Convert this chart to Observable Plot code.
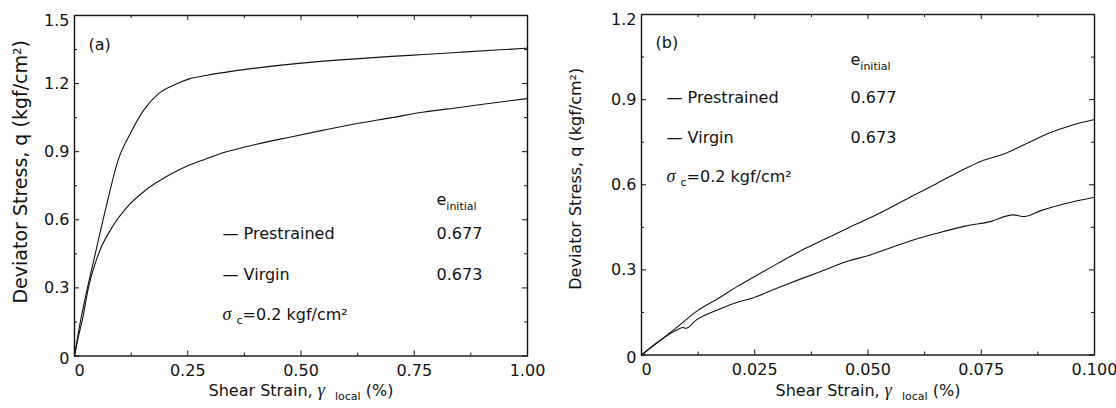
<!DOCTYPE html>
<html><head><meta charset="utf-8">
<script src="https://cdn.jsdelivr.net/npm/d3@7"></script>
<script src="https://cdn.jsdelivr.net/npm/@observablehq/plot@0.6"></script>
<style>
body{margin:0;background:#fff;}
#wrap{display:flex;width:1116px;height:408px;overflow:hidden;}
svg{display:block;}
</style></head><body><div id="wrap"></div>
<script>
// ---------- Data ----------
const seriesNames = ["Prestrained", "Virgin"];
const eInitial = ["0.677", "0.673"];

// Panel (a)
const aPreStrain = [0, 0.012, 0.0257, 0.0425, 0.068, 0.096, 0.123, 0.152, 0.185, 0.222, 0.255, 0.29, 0.35, 0.40, 0.5, 0.62, 0.70, 0.77, 0.85, 0.94, 1.0];
const aPreStress = [0, 0.14, 0.274, 0.421, 0.641, 0.861, 0.979, 1.081, 1.155, 1.196, 1.222, 1.236, 1.255, 1.268, 1.29, 1.309, 1.32, 1.328, 1.338, 1.349, 1.356];
const aVirStrain = [0, 0.008, 0.017, 0.031, 0.053, 0.083, 0.116, 0.156, 0.207, 0.255, 0.29, 0.328, 0.4, 0.475, 0.55, 0.621, 0.7, 0.768, 0.85, 0.936, 1.0];
const aVirStress = [0, 0.08, 0.156, 0.303, 0.45, 0.567, 0.656, 0.729, 0.795, 0.842, 0.868, 0.895, 0.932, 0.964, 0.995, 1.023, 1.05, 1.074, 1.095, 1.118, 1.134];
const aXTicks = [0, 0.25, 0.5, 0.75, 1.0];
const aXTickLabels = ["0", "0.25", "0.50", "0.75", "1.00"];
const aXMinor = [0.125, 0.375, 0.625, 0.875];
const aYTicks = [0, 0.3, 0.6, 0.9, 1.2, 1.5];
const aYTickLabels = ["0", "0.3", "0.6", "0.9", "1.2", "1.5"];
const aYMinor = [0.15, 0.45, 0.75, 1.05, 1.35];

// Panel (b)
const bPreStrain = [0, 0.004, 0.008, 0.012, 0.017, 0.021, 0.025, 0.03, 0.0355, 0.04, 0.0455, 0.05, 0.055, 0.06, 0.065, 0.07, 0.075, 0.08, 0.085, 0.09, 0.095, 0.1];
const bPreStress = [0, 0.05, 0.10, 0.152, 0.2, 0.24, 0.277, 0.322, 0.37, 0.405, 0.447, 0.48, 0.52, 0.562, 0.603, 0.645, 0.683, 0.708, 0.745, 0.782, 0.81, 0.83];
const bVirStrain = [0, 0.004, 0.008, 0.0092, 0.0098, 0.012, 0.017, 0.021, 0.024, 0.03, 0.0355, 0.04, 0.0458, 0.05, 0.055, 0.06, 0.065, 0.0717, 0.077, 0.082, 0.0845, 0.088, 0.0934, 0.1];
const bVirStress = [0, 0.05, 0.09, 0.097, 0.094, 0.122, 0.16, 0.185, 0.198, 0.236, 0.27, 0.297, 0.332, 0.35, 0.378, 0.405, 0.428, 0.455, 0.47, 0.494, 0.488, 0.508, 0.533, 0.556];
const bXTicks = [0, 0.025, 0.05, 0.075, 0.1];
const bXTickLabels = ["0", "0.025", "0.050", "0.075", "0.100"];
const bXMinor = [0.0125, 0.0375, 0.0625, 0.0875];
const bYTicks = [0, 0.3, 0.6, 0.9, 1.2];
const bYTickLabels = ["0", "0.3", "0.6", "0.9", "1.2"];
const bYMinor = [0.15, 0.45, 0.75, 1.05];

const yTitle = "Deviator Stress, q (kgf/cm²)";
const xTitle = "Shear Strain, γ local (%)";
const sigmaText = "σ c=0.2 kgf/cm²";
const eText = "e initial";

// ---------- Drawing ----------
const W = 558, H = 408, INK = "#111";

function makePanel(p) {
  const ih = H - p.mt - p.mb, iw = W - p.ml - p.mr;
  const pre = p.preX.map((x, i) => ({x, y: p.preY[i]}));
  const vir = p.virX.map((x, i) => ({x, y: p.virY[i]}));
  const fmt = (ticks, labels) => d => labels[ticks.indexOf(d)];
  const xf = fmt(p.xTicks, p.xLabels), yf = fmt(p.yTicks, p.yLabels);
  const n = p.yTicks.length;
  const txt = (s, o) => Plot.text([s], {text: d => d, frameAnchor: "top-left", textAnchor: "start", fontSize: 16, fill: INK, ...o});
  const marks = [
    Plot.line(pre, {x: "x", y: "y", stroke: INK, strokeWidth: 1.1, curve: "monotone-x"}),
    Plot.line(vir, {x: "x", y: "y", stroke: INK, strokeWidth: 1.1, curve: "monotone-x"}),
    Plot.frame({stroke: INK, strokeWidth: 1.4}),
    Plot.tickX(p.xTicks, {x: d => d, insetTop: ih - 5, stroke: INK}),
    Plot.tickX(p.xTicks, {x: d => d, insetBottom: ih - 5, stroke: INK}),
    Plot.tickX(p.xMinor, {x: d => d, insetTop: ih - 3, stroke: INK}),
    Plot.tickX(p.xMinor, {x: d => d, insetBottom: ih - 3, stroke: INK}),
    Plot.tickY(p.yTicks, {y: d => d, insetRight: iw - 5, stroke: INK}),
    Plot.tickY(p.yTicks, {y: d => d, insetLeft: iw - 5, stroke: INK}),
    Plot.tickY(p.yMinor, {y: d => d, insetRight: iw - 3, stroke: INK}),
    Plot.tickY(p.yMinor, {y: d => d, insetLeft: iw - 3, stroke: INK}),
    Plot.axisX(p.xTicks.slice(1), {tickSize: 0, tickPadding: 9, tickFormat: xf, label: null, fontSize: 16, fill: INK}),
    Plot.axisX(p.xTicks.slice(0, 1), {tickSize: 0, tickPadding: 9, dx: 5, tickFormat: xf, label: null, fontSize: 16, fill: INK}),
    Plot.axisY(p.yTicks.slice(1, n - 1), {tickSize: 0, tickPadding: 5, tickFormat: yf, label: null, fontSize: 16, fill: INK}),
    Plot.axisY(p.yTicks.slice(0, 1), {tickSize: 0, tickPadding: 5, dy: 3, tickFormat: yf, label: null, fontSize: 16, fill: INK}),
    Plot.axisY(p.yTicks.slice(n - 1), {tickSize: 0, tickPadding: 5, dy: 5, tickFormat: yf, label: null, fontSize: 16, fill: INK}),
    Plot.text([yTitle], {text: d => d, frameAnchor: "left", textAnchor: "middle", dx: p.yTitleDx, dy: p.yTitleDy, rotate: -90, fontSize: p.yTitleSize, fill: INK}),
    Plot.text([xTitle], {text: d => d, frameAnchor: "bottom", textAnchor: "middle", dy: p.xTitleDy, fontSize: 16, fill: INK}),
    txt(p.tag, {dx: p.tagDx, dy: p.tagDy}),
    txt(eText, {dx: p.valDx, dy: p.eDy}),
    txt(sigmaText, {dx: p.legDx, dy: p.sigDy})
  ];
  seriesNames.forEach((s, i) => {
    marks.push(txt("— " + s, {dx: p.legDx, dy: p.rowDy[i]}));
    marks.push(txt(eInitial[i], {dx: p.valDx, dy: p.rowDy[i]}));
  });
  const svg = Plot.plot({
    width: W, height: H,
    marginLeft: p.ml, marginRight: p.mr, marginTop: p.mt, marginBottom: p.mb,
    x: {domain: p.xDomain}, y: {domain: p.yDomain},
    style: {fontFamily: "'DejaVu Sans', sans-serif", fontSize: "16px", color: INK, background: "#fff"},
    marks
  });
  rich(svg, xTitle, [
    {t: "Shear Strain,\u00a0"}, {t: "γ", italic: true, size: 18}, {t: "\u00a0\u00a0"},
    {t: "local", size: 11, dy: 4}, {t: "\u00a0(%)", dy: -4}
  ]);
  rich(svg, eText, [{t: "e"}, {t: "initial", size: 11, dy: 5}]);
  rich(svg, sigmaText, [
    {t: "σ", italic: true, size: 18}, {t: "\u00a0"}, {t: "c", size: 11, dy: 4},
    {t: "=0.2 kgf/cm²", dy: -4}
  ]);
  return svg;
}

// Replace a plain text (found by its content) with styled tspans
function rich(svg, content, parts) {
  d3.select(svg).selectAll("text").filter(function () {
    return this.textContent === content && this.childElementCount === 0;
  }).each(function () {
    const t = d3.select(this);
    t.text(null);
    for (const q of parts) {
      const s = t.append("tspan").text(q.t);
      if (q.dy) s.attr("dy", q.dy);
      if (q.size) s.attr("font-size", q.size);
      if (q.italic) s.attr("font-style", "italic").attr("font-family", "'Liberation Serif', serif");
    }
  });
}

const wrap = document.getElementById("wrap");
wrap.append(makePanel({
  ml: 74, mr: 31, mt: 15, mb: 52.5,
  xDomain: [0, 1], yDomain: [0, 1.5],
  preX: aPreStrain, preY: aPreStress, virX: aVirStrain, virY: aVirStress,
  xTicks: aXTicks, xLabels: aXTickLabels, xMinor: aXMinor,
  yTicks: aYTicks, yLabels: aYTickLabels, yMinor: aYMinor,
  yTitleDx: -54, yTitleDy: -14, yTitleSize: 19, xTitleDy: 39.5,
  tag: "(a)", tagDx: 14, tagDy: 23,
  legDx: 148, valDx: 362, eDy: 178, rowDy: [212, 253], sigDy: 293
}));
wrap.append(makePanel({
  ml: 83, mr: 22, mt: 14, mb: 53.5,
  xDomain: [0, 0.1], yDomain: [0, 1.2],
  preX: bPreStrain, preY: bPreStress, virX: bVirStrain, virY: bVirStress,
  xTicks: bXTicks, xLabels: bXTickLabels, xMinor: bXMinor,
  yTicks: bYTicks, yLabels: bYTickLabels, yMinor: bYMinor,
  yTitleDx: -66, yTitleDy: -6, yTitleSize: 16, xTitleDy: 40.5,
  tag: "(b)", tagDx: 14, tagDy: 22,
  legDx: 25, valDx: 209, eDy: 39, rowDy: [77, 117], sigDy: 156
}));
</script>
</body></html>
